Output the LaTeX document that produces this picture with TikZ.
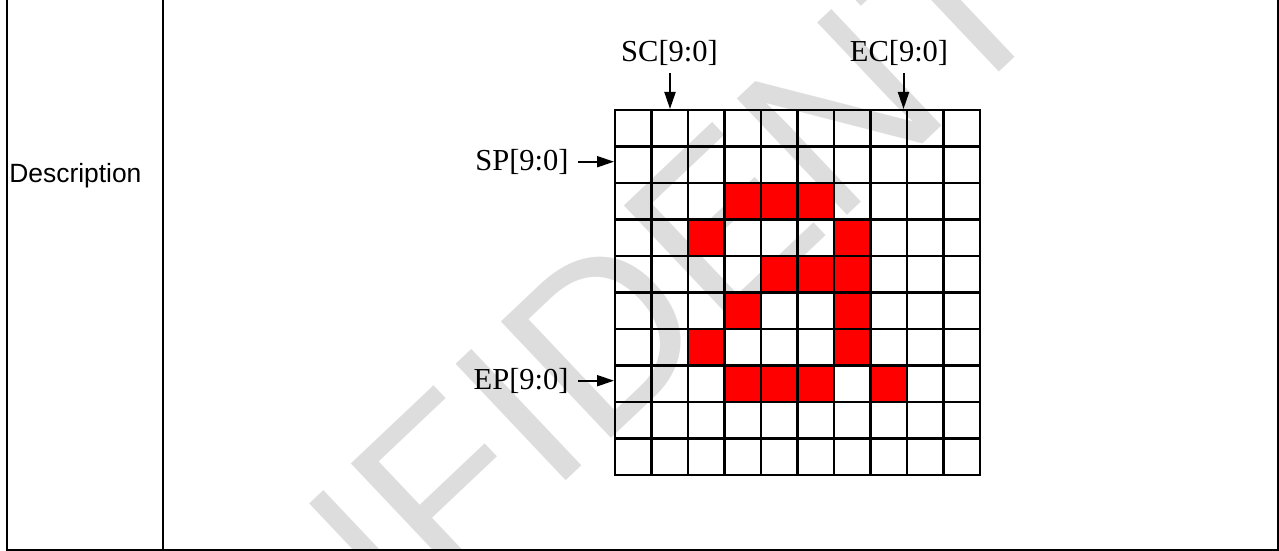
\documentclass[tikz,border=0pt]{standalone}
\usepackage{fontspec}
\setmainfont{Liberation Serif}
\newfontfamily\arialfont{Liberation Sans}
\usepackage{tikz}
\usetikzlibrary{arrows.meta, positioning}
\definecolor{wmgray}{RGB}{221,221,221}
\definecolor{pixred}{RGB}{255,0,0}
\tikzstyle{frame} = [line width=1.35pt, draw=black, line cap=rect]
\tikzstyle{gridline} = [line width=1.4pt, draw=black, line cap=rect]
\tikzstyle{pixel} = [fill=pixred]
\tikzstyle{signal} = [font=\fontsize{15.25}{18}\selectfont, inner sep=0pt]
\tikzstyle{label} = [font=\arialfont\fontsize{13.2}{16}\selectfont, inner sep=0pt]
\tikzstyle{arrow} = [line width=1pt, -{Triangle[length=8.5pt,width=5.5pt]}]
\tikzstyle{watermark} = [font=\arialfont\fontsize{116.5}{120}\selectfont, text=wmgray, inner sep=0pt]

\begin{document}
\begin{tikzpicture}[x=0.5pt, y=-0.5pt]

\useasboundingbox (0,0) rectangle (1279,551);
\begin{scope}
\clip (0,0) rectangle (1279,551);
\node (mark) [watermark, rotate=43.4] at (637,304) {CONFIDENTIAL};
\end{scope}

\draw [frame] (7,0) -- (7,550) -- (1278,550) -- (1278,0);
\draw [frame] (163,0) -- (163,550);
\node (desc) [label, anchor=base west] at (9,182.5) {Description};

\foreach \r/\c in {2/3,2/4,2/5,3/2,3/6,4/4,4/5,4/6,5/3,5/6,6/2,6/6,7/3,7/4,7/5,7/7}
  \fill [pixel] (615+36.5*\c,110+36.5*\r) rectangle ++(36.5,36.5);

\foreach \i in {0,...,10} {
  \draw [gridline] (615+36.5*\i,110) -- (615+36.5*\i,475);
  \draw [gridline] (615,110+36.5*\i) -- (980,110+36.5*\i);
}

\coordinate (sctop) at (670,109);
\coordinate (ectop) at (903.5,109);
\coordinate (spin) at (614,161.7);
\coordinate (epin) at (614,380.7);

\node (sc) [signal] at (669.5,53.4) {SC[9:0]};
\node (ec) [signal] at (899,53.4) {EC[9:0]};
\node (sp) [signal, anchor=east] at (569,161.7) {SP[9:0]};
\node (ep) [signal, anchor=east] at (569,380.7) {EP[9:0]};

\draw [arrow, shorten <=3.5pt] (sctop |- sc.south) -- (sctop);
\draw [arrow, shorten <=3.5pt] (ectop |- ec.south) -- (ectop);
\draw [arrow, shorten <=4.5pt] (sp.east) -- (spin);
\draw [arrow, shorten <=4.5pt] (ep.east) -- (epin);

\end{tikzpicture}
\end{document}
